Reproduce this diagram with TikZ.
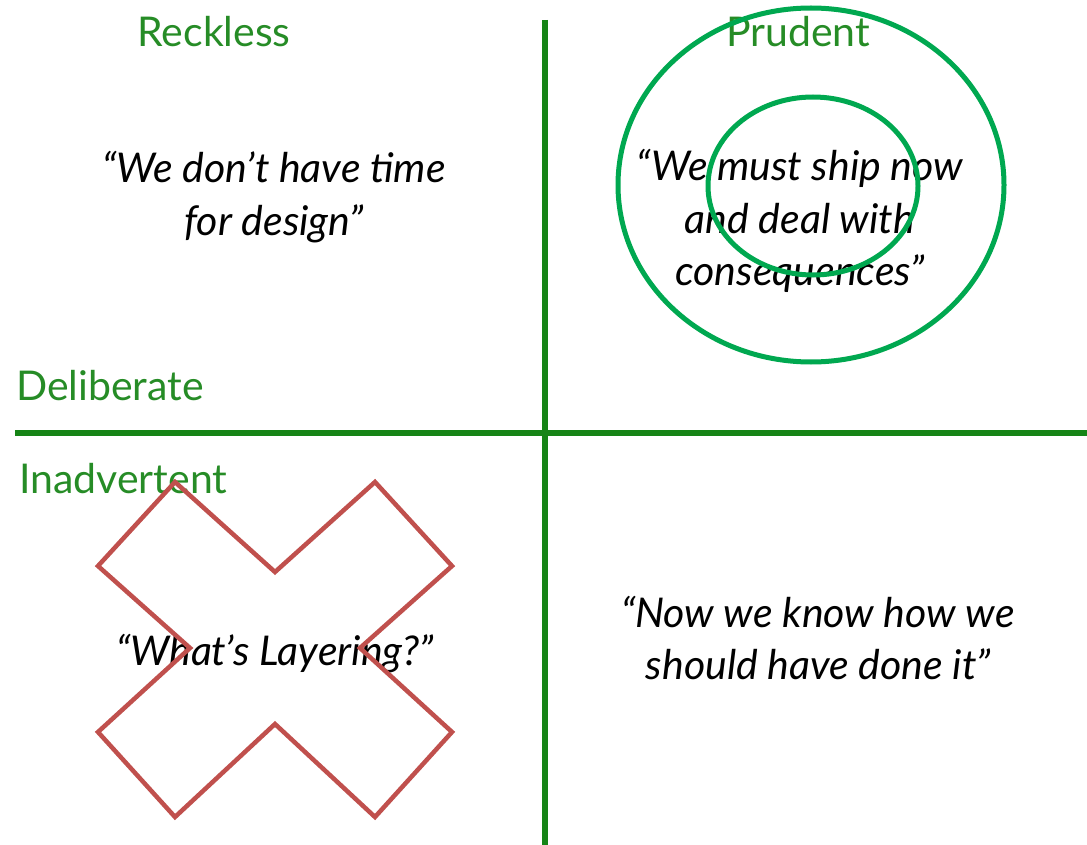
\documentclass[tikz,border=0pt]{standalone}
\usepackage{fontspec}
\setmainfont{Lato}
\definecolor{axisgreen}{RGB}{22,132,22}
\definecolor{labelgreen}{RGB}{38,140,38}
\definecolor{ringgreen}{RGB}{0,168,80}
\definecolor{crossred}{RGB}{192,80,77}
\tikzset{
    axis/.style={line width=6pt, axisgreen},
    quadlabel/.style={text=labelgreen, font=\fontsize{41}{45}\selectfont, inner sep=0pt},
    quote/.style={align=center, inner sep=0pt, font=\itshape\fontsize{41}{52.5}\selectfont},
    ring/.style={line width=5pt, ringgreen},
    cross/.style={line width=4.5pt, crossred, line join=miter}
}
\begin{document}
\begin{tikzpicture}[x=1pt, y=-1pt]
    \useasboundingbox (0,0) rectangle (1087,845);
    \coordinate (vtop) at (545,20);
    \coordinate (vbot) at (545,845);
    \coordinate (hleft) at (15,433);
    \coordinate (hright) at (1087,433);
    \draw[axis] (vtop) -- (vbot);
    \draw[axis] (hleft) -- (hright);
    \node[quadlabel, anchor=base] (reckless) at (214,47) {Reckless};
    \node[quadlabel, anchor=base] (prudent) at (798,47) {Prudent};
    \node[quadlabel, anchor=base west] (deliberate) at (16,400) {Deliberate};
    \node[quadlabel, anchor=base west] (inadvertent) at (19,493) {Inadvertent};
    \node[quote] (notime) at (274,197) {“We don’t have time\\for design”};
    \node[quote] (mustship) at (800,221) {“We must ship now\\and deal with\\consequences”};
    \node[quote, anchor=base] (layering) at (275,665) {“What’s Layering?”};
    \node[quote] (nowknow) at (818,638) {“Now we know how we\\should have done it”};
    \draw[ring] (811,185) ellipse[x radius=193, y radius=177];
    \draw[ring] (813,186) ellipse[x radius=105, y radius=89];
    \draw[cross] (175,482) -- (275,572) -- (375,482) -- (452,566) -- (360,648) -- (452,732)
        -- (375,817) -- (275,724) -- (175,817) -- (98,732) -- (190,648) -- (98,566) -- cycle;
\end{tikzpicture}
\end{document}
